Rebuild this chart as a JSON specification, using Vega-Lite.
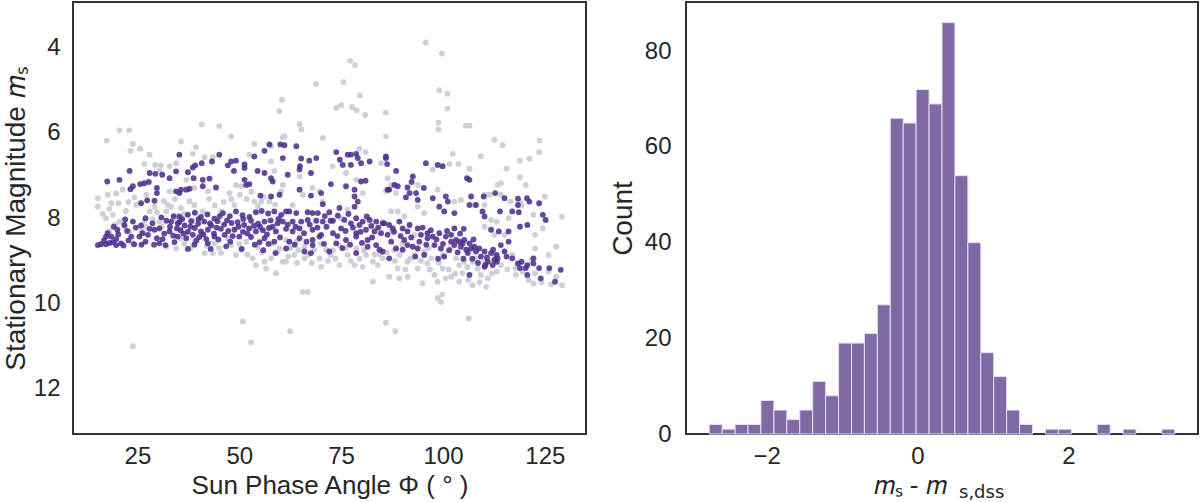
{
  "$schema": "https://vega.github.io/schema/vega-lite/v6.json",
  "background": "white",
  "padding": {"left": 1, "top": 1, "right": 0, "bottom": 0},
  "spacing": 100,
  "bounds": "flush",
  "config": {
    "font": "Liberation Sans",
    "view": {"stroke": "#333333", "strokeWidth": 2},
    "axis": {
      "grid": false, "ticks": false, "domain": false,
      "labelFont": "Liberation Sans", "labelFontSize": 24, "labelColor": "#262626", "labelPadding": 12,
      "titleFont": "Liberation Sans", "titleFontSize": 26, "titleFontWeight": "normal", "titleColor": "#262626", "titlePadding": 6
    }
  },
  "datasets": {
    "gray": [
      {"phi":95.8,"ms":3.88},{"phi":99.75,"ms":4.14},{"phi":77.2,"ms":4.31},{"phi":78.4,"ms":4.41},{"phi":68.85,"ms":4.85},{"phi":75.55,"ms":4.81},{"phi":79.6,"ms":5.12},{"phi":99.1,"ms":5.0},{"phi":101.1,"ms":5.08},{"phi":60.5,"ms":5.22},{"phi":59.85,"ms":5.49},{"phi":73.8,"ms":5.41},{"phi":75.0,"ms":5.35},{"phi":77.7,"ms":5.39},{"phi":78.8,"ms":5.47},{"phi":80.9,"ms":5.58},{"phi":86.0,"ms":5.52},{"phi":101.1,"ms":5.43},{"phi":98.9,"ms":5.76},{"phi":98.9,"ms":5.92},{"phi":64.8,"ms":5.79},{"phi":65.25,"ms":5.92},{"phi":40.8,"ms":5.8},{"phi":45.1,"ms":5.84},{"phi":20.6,"ms":5.94},{"phi":23.0,"ms":5.94},{"phi":105.6,"ms":5.83},{"phi":106.5,"ms":5.83},
      {"phi":23.9,"ms":11.0},{"phi":50.9,"ms":10.42},{"phi":52.9,"ms":10.91},{"phi":62.5,"ms":10.65},{"phi":86.0,"ms":10.45},{"phi":88.3,"ms":10.65},{"phi":106.3,"ms":10.35},{"phi":65.6,"ms":9.73},{"phi":66.8,"ms":9.73},{"phi":98.7,"ms":9.87},{"phi":99.8,"ms":9.79},{"phi":99.5,"ms":9.96},
      {"phi":17.5,"ms":6.18},{"phi":23.9,"ms":6.26},{"phi":23.3,"ms":6.42},{"phi":25.7,"ms":6.37},{"phi":28.0,"ms":6.51},{"phi":26.7,"ms":6.73},{"phi":29.4,"ms":6.75},{"phi":30.8,"ms":6.76},{"phi":30.4,"ms":6.89},{"phi":32.9,"ms":6.78},{"phi":21.4,"ms":7.33},{"phi":17.7,"ms":7.45},{"phi":15.3,"ms":7.53},{"phi":15.3,"ms":7.73},{"phi":18.6,"ms":7.65},{"phi":20.4,"ms":7.65},{"phi":22.2,"ms":7.83},{"phi":19.0,"ms":7.92},{"phi":17.3,"ms":8.0},{"phi":20.6,"ms":8.08},{"phi":18.1,"ms":7.78},{"phi":24.3,"ms":7.51},{"phi":32.9,"ms":7.37},{"phi":32.5,"ms":7.69},{"phi":24.7,"ms":7.69},{"phi":28.0,"ms":7.84},{"phi":29.8,"ms":7.86},{"phi":26.7,"ms":8.06},{"phi":28.8,"ms":8.02},{"phi":30.4,"ms":8.08},{"phi":32.1,"ms":7.84},{"phi":23.1,"ms":8.31},{"phi":25.9,"ms":8.31},{"phi":18.1,"ms":8.31},{"phi":32.1,"ms":8.67},{"phi":23.9,"ms":8.59},{"phi":34.5,"ms":8.71},{"phi":33.3,"ms":7.73},{"phi":29.2,"ms":7.73},
      {"phi":35.7,"ms":6.2},{"phi":39.4,"ms":6.34},{"phi":38.6,"ms":6.49},{"phi":41.5,"ms":6.57},{"phi":43.5,"ms":6.57},{"phi":48.0,"ms":6.08},{"phi":53.7,"ms":6.26},{"phi":60.7,"ms":6.1},{"phi":57.8,"ms":6.31},{"phi":57.8,"ms":6.67},{"phi":52.5,"ms":6.51},{"phi":58.6,"ms":6.89},{"phi":37.0,"ms":7.1},{"phi":39.0,"ms":7.29},{"phi":42.3,"ms":7.37},{"phi":47.6,"ms":7.41},{"phi":50.5,"ms":7.25},{"phi":49.2,"ms":7.22},{"phi":53.7,"ms":7.61},{"phi":55.4,"ms":7.61},{"phi":57.4,"ms":7.61},{"phi":60.3,"ms":7.37},{"phi":39.0,"ms":7.69},{"phi":35.7,"ms":7.76},{"phi":41.05,"ms":7.84},{"phi":48.8,"ms":7.69},{"phi":45.5,"ms":7.84},{"phi":34.5,"ms":6.71},{"phi":35.7,"ms":8.47},{"phi":41.5,"ms":8.82},{"phi":43.5,"ms":8.82},{"phi":48.0,"ms":8.63},{"phi":50.5,"ms":8.74},{"phi":53.3,"ms":8.94},{"phi":54.1,"ms":9.1},{"phi":56.2,"ms":9.02},{"phi":57.8,"ms":8.94},{"phi":56.6,"ms":9.18},{"phi":59.0,"ms":9.29},{"phi":60.7,"ms":9.02},{"phi":45.5,"ms":8.82},{"phi":39.0,"ms":8.55},{"phi":47.2,"ms":8.47},{"phi":51.7,"ms":8.55},{"phi":59.4,"ms":8.78},{"phi":54.5,"ms":8.67},{"phi":43.9,"ms":8.59},{"phi":49.2,"ms":8.86},
      {"phi":61.1,"ms":6.08},{"phi":70.5,"ms":6.12},{"phi":79.5,"ms":6.37},{"phi":81.0,"ms":6.45},{"phi":84.8,"ms":6.71},{"phi":72.9,"ms":6.78},{"phi":64.8,"ms":7.02},{"phi":68.0,"ms":7.29},{"phi":69.7,"ms":7.37},{"phi":76.2,"ms":6.94},{"phi":78.7,"ms":7.1},{"phi":80.3,"ms":7.41},{"phi":60.7,"ms":7.22},{"phi":63.1,"ms":7.69},{"phi":65.6,"ms":7.45},{"phi":70.5,"ms":7.61},{"phi":76.6,"ms":7.8},{"phi":75.0,"ms":8.0},{"phi":85.2,"ms":8.08},{"phi":86.0,"ms":7.37},{"phi":59.9,"ms":8.0},{"phi":61.5,"ms":8.51},{"phi":64.0,"ms":8.55},{"phi":66.0,"ms":8.67},{"phi":68.4,"ms":8.74},{"phi":63.5,"ms":8.86},{"phi":59.9,"ms":8.71},{"phi":61.5,"ms":9.02},{"phi":66.0,"ms":8.94},{"phi":69.7,"ms":8.94},{"phi":72.5,"ms":8.86},{"phi":74.6,"ms":9.1},{"phi":70.1,"ms":9.14},{"phi":76.6,"ms":8.86},{"phi":78.3,"ms":9.1},{"phi":80.3,"ms":9.14},{"phi":82.8,"ms":9.02},{"phi":84.0,"ms":9.1},{"phi":82.8,"ms":9.49},{"phi":85.2,"ms":8.94},{"phi":71.3,"ms":8.74},{"phi":78.7,"ms":8.71},{"phi":74.6,"ms":8.63},{"phi":81.1,"ms":8.86},
      {"phi":86.0,"ms":6.08},{"phi":112.6,"ms":6.16},{"phi":102.4,"ms":6.49},{"phi":109.3,"ms":6.55},{"phi":101.6,"ms":6.73},{"phi":103.8,"ms":6.73},{"phi":97.5,"ms":6.86},{"phi":106.5,"ms":6.84},{"phi":86.4,"ms":7.06},{"phi":87.3,"ms":7.22},{"phi":88.5,"ms":7.41},{"phi":93.8,"ms":7.22},{"phi":93.8,"ms":7.73},{"phi":98.7,"ms":7.33},{"phi":102.8,"ms":7.61},{"phi":104.4,"ms":7.57},{"phi":87.3,"ms":7.84},{"phi":88.9,"ms":7.84},{"phi":90.5,"ms":7.96},{"phi":95.4,"ms":7.88},{"phi":110.2,"ms":7.45},{"phi":111.4,"ms":7.45},{"phi":113.4,"ms":7.22},{"phi":110.2,"ms":7.69},{"phi":107.7,"ms":7.69},{"phi":111.8,"ms":8.04},{"phi":110.2,"ms":8.2},{"phi":112.6,"ms":8.39},{"phi":89.3,"ms":8.86},{"phi":91.3,"ms":9.02},{"phi":93.0,"ms":8.86},{"phi":95.4,"ms":8.78},{"phi":88.9,"ms":9.18},{"phi":86.8,"ms":9.37},{"phi":89.3,"ms":9.41},{"phi":91.3,"ms":9.37},{"phi":93.8,"ms":9.18},{"phi":95.0,"ms":9.53},{"phi":97.9,"ms":9.33},{"phi":98.7,"ms":9.49},{"phi":100.7,"ms":9.41},{"phi":102.0,"ms":9.37},{"phi":104.0,"ms":9.49},{"phi":104.8,"ms":9.29},{"phi":105.2,"ms":9.02},{"phi":107.3,"ms":9.02},{"phi":108.5,"ms":9.18},{"phi":107.3,"ms":9.57},{"phi":109.3,"ms":9.33},{"phi":110.6,"ms":9.61},{"phi":111.0,"ms":9.41},{"phi":103.2,"ms":8.94},{"phi":96.2,"ms":9.06},{"phi":99.9,"ms":9.18},{"phi":110.2,"ms":9.02},{"phi":112.6,"ms":8.86},{"phi":87.3,"ms":8.31},{"phi":93.0,"ms":8.39},{"phi":102.0,"ms":8.71},{"phi":97.1,"ms":8.94},
      {"phi":114.6,"ms":6.29},{"phi":123.7,"ms":6.18},{"phi":123.6,"ms":6.45},{"phi":121.2,"ms":6.6},{"phi":118.9,"ms":6.65},{"phi":115.6,"ms":6.84},{"phi":118.9,"ms":7.04},{"phi":114.2,"ms":7.18},{"phi":120.3,"ms":7.22},{"phi":125.0,"ms":7.49},{"phi":114.2,"ms":7.45},{"phi":116.5,"ms":7.61},{"phi":118.9,"ms":7.61},{"phi":119.3,"ms":7.7},{"phi":129.2,"ms":7.96},{"phi":122.2,"ms":7.92},{"phi":116.1,"ms":8.0},{"phi":113.2,"ms":8.08},{"phi":115.1,"ms":8.39},{"phi":122.6,"ms":8.39},{"phi":124.5,"ms":8.24},{"phi":127.8,"ms":8.67},{"phi":125.9,"ms":8.86},{"phi":122.6,"ms":8.71},{"phi":117.0,"ms":8.86},{"phi":121.7,"ms":8.98},{"phi":114.2,"ms":9.1},{"phi":117.8,"ms":9.17},{"phi":122.6,"ms":9.29},{"phi":125.9,"ms":9.25},{"phi":122.2,"ms":9.53},{"phi":129.2,"ms":9.57},{"phi":127.8,"ms":9.37},{"phi":117.9,"ms":9.33},{"phi":113.2,"ms":9.25},
      {"phi":36.5,"ms":8.6},{"phi":38.0,"ms":8.7},{"phi":42.0,"ms":8.65},{"phi":45.0,"ms":8.7},{"phi":50.0,"ms":8.6},{"phi":52.0,"ms":8.85},{"phi":55.5,"ms":8.8},{"phi":58.0,"ms":8.6},{"phi":62.5,"ms":8.7},{"phi":64.5,"ms":8.75},{"phi":67.0,"ms":8.85},{"phi":70.0,"ms":8.6},{"phi":73.0,"ms":8.75},{"phi":76.0,"ms":8.7},{"phi":79.5,"ms":8.95},{"phi":84.5,"ms":8.85},{"phi":88.0,"ms":8.75},{"phi":90.0,"ms":8.6},{"phi":92.0,"ms":8.95},{"phi":96.5,"ms":8.7},{"phi":100.0,"ms":8.85},{"phi":104.0,"ms":9.1},{"phi":106.0,"ms":9.15},{"phi":108.0,"ms":8.95},
      {"phi":16.5,"ms":7.9},{"phi":19.5,"ms":8.15},{"phi":22.0,"ms":8.2},{"phi":27.0,"ms":8.2},{"phi":31.0,"ms":8.2},{"phi":34.0,"ms":8.0},{"phi":36.5,"ms":7.9},{"phi":38.5,"ms":8.05},
      {"phi":50.2,"ms":7.45},{"phi":51.8,"ms":7.55},{"phi":53.0,"ms":7.38},{"phi":54.6,"ms":7.72},{"phi":56.0,"ms":7.5},{"phi":58.8,"ms":7.68},{"phi":48.0,"ms":7.55},{"phi":46.2,"ms":7.62},{"phi":44.0,"ms":7.7},{"phi":42.6,"ms":7.55},{"phi":37.8,"ms":7.6},{"phi":34.2,"ms":7.55},{"phi":31.5,"ms":7.6},{"phi":27.2,"ms":7.45},{"phi":22.8,"ms":7.62},{"phi":19.8,"ms":7.42},
      {"phi":62.0,"ms":8.9},{"phi":64.2,"ms":9.05},{"phi":67.8,"ms":9.05},{"phi":71.8,"ms":9.0},{"phi":73.6,"ms":8.95},{"phi":77.4,"ms":9.0},{"phi":80.6,"ms":8.75},{"phi":83.2,"ms":8.85},{"phi":86.2,"ms":8.8},{"phi":88.2,"ms":9.0},{"phi":90.8,"ms":9.2},{"phi":94.6,"ms":9.0},{"phi":96.8,"ms":9.2},{"phi":99.0,"ms":9.05},{"phi":101.4,"ms":9.2},{"phi":103.0,"ms":9.3},{"phi":106.2,"ms":9.45},{"phi":109.0,"ms":9.5},{"phi":112.0,"ms":9.3},{"phi":115.8,"ms":9.2},{"phi":119.5,"ms":9.25},{"phi":121.0,"ms":9.45},{"phi":124.2,"ms":9.5},{"phi":126.5,"ms":9.55}
    ],
    "purple": [
      {"phi":23.1,"ms":6.89},{"phi":17.6,"ms":7.14},{"phi":20.6,"ms":7.1},{"phi":28.0,"ms":6.94},{"phi":29.4,"ms":6.96},{"phi":31.1,"ms":6.98},{"phi":27.8,"ms":7.15},{"phi":26.7,"ms":7.18},{"phi":25.7,"ms":7.2},{"phi":23.9,"ms":7.25},{"phi":23.3,"ms":7.32},{"phi":29.8,"ms":7.29},{"phi":29.8,"ms":7.41},{"phi":25.9,"ms":7.65},{"phi":27.4,"ms":7.58},{"phi":29.2,"ms":7.59},{"phi":34.5,"ms":6.9},{"phi":35.3,"ms":6.51},{"phi":32.9,"ms":7.06},{"phi":34.5,"ms":7.37},
      {"phi":23.9,"ms":8.08},{"phi":21.8,"ms":8.16},{"phi":25.9,"ms":8.17},{"phi":32.1,"ms":8.06},{"phi":33.3,"ms":8.08},{"phi":30.4,"ms":8.24},{"phi":29.2,"ms":8.27},{"phi":17.7,"ms":8.35},{"phi":18.6,"ms":8.43},{"phi":19.8,"ms":8.49},{"phi":19.0,"ms":8.56},{"phi":17.3,"ms":8.61},{"phi":15.3,"ms":8.63},{"phi":21.0,"ms":8.59},{"phi":21.6,"ms":8.64},{"phi":23.5,"ms":8.43},{"phi":25.5,"ms":8.43},{"phi":27.6,"ms":8.39},{"phi":28.0,"ms":8.25},{"phi":29.8,"ms":8.47},{"phi":31.2,"ms":8.49},{"phi":32.9,"ms":8.31},{"phi":33.8,"ms":8.41},{"phi":34.7,"ms":8.24},{"phi":35.3,"ms":8.09},{"phi":17.3,"ms":8.43},{"phi":16.1,"ms":8.61},{"phi":19.8,"ms":8.63},{"phi":27.0,"ms":8.55},{"phi":30.4,"ms":8.59},{"phi":34.1,"ms":8.56},
      {"phi":39.2,"ms":6.76},{"phi":38.6,"ms":6.81},{"phi":40.8,"ms":6.71},{"phi":43.3,"ms":6.67},{"phi":45.1,"ms":6.51},{"phi":47.2,"ms":6.76},{"phi":48.0,"ms":6.67},{"phi":49.2,"ms":6.65},{"phi":48.7,"ms":6.89},{"phi":51.3,"ms":6.74},{"phi":51.3,"ms":6.82},{"phi":53.7,"ms":6.55},{"phi":56.2,"ms":6.42},{"phi":57.4,"ms":6.27},{"phi":60.1,"ms":6.27},{"phi":37.4,"ms":6.92},{"phi":38.8,"ms":7.06},{"phi":41.05,"ms":7.1},{"phi":42.7,"ms":7.07},{"phi":44.3,"ms":7.28},{"phi":41.05,"ms":7.25},{"phi":51.3,"ms":7.1},{"phi":51.7,"ms":7.22},{"phi":52.5,"ms":7.2},{"phi":54.5,"ms":6.89},{"phi":56.2,"ms":6.94},{"phi":57.8,"ms":7.06},{"phi":58.2,"ms":7.14},{"phi":35.7,"ms":7.33},{"phi":37.0,"ms":7.33},{"phi":37.8,"ms":7.31},{"phi":35.3,"ms":7.41},{"phi":55.2,"ms":7.47},{"phi":57.8,"ms":7.49},{"phi":59.9,"ms":7.45},
      {"phi":35.3,"ms":7.96},{"phi":37.4,"ms":7.92},{"phi":39.1,"ms":7.87},{"phi":40.6,"ms":7.97},{"phi":42.2,"ms":7.91},{"phi":43.9,"ms":8.01},{"phi":46.0,"ms":7.88},{"phi":47.7,"ms":7.95},{"phi":49.2,"ms":7.84},{"phi":50.8,"ms":7.93},{"phi":52.5,"ms":7.97},{"phi":54.1,"ms":7.86},{"phi":55.5,"ms":7.83},{"phi":57.1,"ms":7.89},{"phi":58.6,"ms":7.84},{"phi":60.3,"ms":7.92},
      {"phi":34.9,"ms":8.12},{"phi":36.6,"ms":8.17},{"phi":38.2,"ms":8.07},{"phi":39.9,"ms":8.13},{"phi":41.4,"ms":8.08},{"phi":43.1,"ms":8.17},{"phi":44.7,"ms":8.07},{"phi":46.3,"ms":8.15},{"phi":48.1,"ms":8.11},{"phi":49.6,"ms":8.09},{"phi":51.2,"ms":8.16},{"phi":52.9,"ms":8.06},{"phi":54.6,"ms":8.13},{"phi":56.2,"ms":8.08},{"phi":57.7,"ms":8.05},{"phi":59.4,"ms":8.12},
      {"phi":35.6,"ms":8.28},{"phi":37.4,"ms":8.32},{"phi":39.1,"ms":8.23},{"phi":40.6,"ms":8.31},{"phi":42.3,"ms":8.27},{"phi":43.8,"ms":8.36},{"phi":45.5,"ms":8.25},{"phi":47.3,"ms":8.3},{"phi":48.8,"ms":8.27},{"phi":50.9,"ms":8.32},{"phi":52.4,"ms":8.24},{"phi":54.1,"ms":8.31},{"phi":55.8,"ms":8.28},{"phi":57.3,"ms":8.23},{"phi":59.0,"ms":8.31},
      {"phi":34.9,"ms":8.43},{"phi":37.0,"ms":8.47},{"phi":38.6,"ms":8.39},{"phi":40.2,"ms":8.44},{"phi":41.9,"ms":8.49},{"phi":43.9,"ms":8.43},{"phi":46.4,"ms":8.39},{"phi":50.0,"ms":8.43},{"phi":52.9,"ms":8.44},{"phi":56.2,"ms":8.47},{"phi":58.6,"ms":8.55},{"phi":37.4,"ms":8.72},{"phi":42.3,"ms":8.59},{"phi":55.0,"ms":8.56},
      {"phi":61.1,"ms":6.29},{"phi":64.0,"ms":6.31},{"phi":60.7,"ms":6.59},{"phi":65.2,"ms":6.6},{"phi":67.2,"ms":6.65},{"phi":68.9,"ms":6.59},{"phi":64.9,"ms":6.78},{"phi":64.8,"ms":6.86},{"phi":67.6,"ms":6.94},{"phi":61.9,"ms":6.98},{"phi":73.8,"ms":6.45},{"phi":74.7,"ms":6.63},{"phi":76.6,"ms":6.51},{"phi":77.4,"ms":6.51},{"phi":78.7,"ms":6.49},{"phi":79.1,"ms":6.59},{"phi":79.9,"ms":6.71},{"phi":82.0,"ms":6.67},{"phi":77.4,"ms":6.75},{"phi":75.4,"ms":6.75},{"phi":72.5,"ms":7.2},{"phi":76.2,"ms":7.25},{"phi":78.3,"ms":7.33},{"phi":79.9,"ms":7.14},{"phi":81.0,"ms":7.12},{"phi":86.0,"ms":6.59},{"phi":86.4,"ms":7.33},{"phi":64.8,"ms":7.33},{"phi":67.6,"ms":7.47},{"phi":70.1,"ms":7.41},{"phi":78.3,"ms":7.49},{"phi":79.1,"ms":7.61},{"phi":70.5,"ms":7.67},{"phi":74.6,"ms":7.76},{"phi":78.3,"ms":7.73},{"phi":61.5,"ms":7.84},
      {"phi":62.3,"ms":7.84},{"phi":64.0,"ms":7.88},{"phi":66.8,"ms":7.86},{"phi":68.0,"ms":7.88},{"phi":69.3,"ms":7.88},{"phi":72.1,"ms":7.86},{"phi":74.2,"ms":7.94},{"phi":78.7,"ms":8.0},{"phi":80.3,"ms":8.08},{"phi":82.0,"ms":8.04},{"phi":83.6,"ms":8.08},{"phi":85.2,"ms":8.12},{"phi":60.7,"ms":8.08},{"phi":63.1,"ms":8.08},{"phi":65.2,"ms":8.08},{"phi":66.8,"ms":8.04},{"phi":68.9,"ms":8.06},{"phi":70.5,"ms":8.08},{"phi":73.0,"ms":8.06},{"phi":75.8,"ms":8.04},{"phi":77.4,"ms":8.12},{"phi":79.5,"ms":8.16},{"phi":61.5,"ms":8.25},{"phi":63.1,"ms":8.31},{"phi":64.8,"ms":8.24},{"phi":68.0,"ms":8.27},{"phi":70.1,"ms":8.39},{"phi":73.0,"ms":8.35},{"phi":75.0,"ms":8.24},{"phi":78.7,"ms":8.35},{"phi":81.1,"ms":8.27},{"phi":83.2,"ms":8.31},{"phi":84.8,"ms":8.35},{"phi":62.3,"ms":8.55},{"phi":64.8,"ms":8.47},{"phi":68.0,"ms":8.51},{"phi":69.7,"ms":8.43},{"phi":76.2,"ms":8.51},{"phi":78.7,"ms":8.43},{"phi":81.5,"ms":8.51},{"phi":83.6,"ms":8.63},{"phi":85.2,"ms":8.78},{"phi":61.5,"ms":8.71},{"phi":66.0,"ms":8.78},{"phi":67.6,"ms":8.82},{"phi":72.1,"ms":8.78},{"phi":78.7,"ms":8.82},{"phi":81.5,"ms":8.67},{"phi":84.4,"ms":8.74},{"phi":68.0,"ms":8.63},{"phi":73.8,"ms":8.59},
      {"phi":86.0,"ms":6.55},{"phi":86.3,"ms":6.73},{"phi":88.5,"ms":6.89},{"phi":95.8,"ms":6.71},{"phi":98.7,"ms":6.75},{"phi":99.9,"ms":6.78},{"phi":92.6,"ms":7.02},{"phi":92.3,"ms":7.15},{"phi":88.1,"ms":7.22},{"phi":88.9,"ms":7.25},{"phi":86.8,"ms":7.33},{"phi":91.3,"ms":7.28},{"phi":91.8,"ms":7.41},{"phi":90.9,"ms":7.51},{"phi":93.4,"ms":7.41},{"phi":95.3,"ms":7.29},{"phi":93.8,"ms":7.57},{"phi":97.5,"ms":7.53},{"phi":99.1,"ms":7.73},{"phi":100.7,"ms":7.49},{"phi":101.2,"ms":7.61},{"phi":100.3,"ms":7.84},{"phi":102.8,"ms":7.88},{"phi":105.9,"ms":7.06},{"phi":106.5,"ms":7.1},{"phi":106.9,"ms":7.49},{"phi":106.5,"ms":7.69},{"phi":108.1,"ms":7.69},{"phi":110.0,"ms":7.49},{"phi":109.7,"ms":7.84},{"phi":110.2,"ms":7.96},{"phi":112.8,"ms":7.41},{"phi":111.8,"ms":8.27},
      {"phi":85.6,"ms":8.12},{"phi":86.8,"ms":8.16},{"phi":87.7,"ms":8.24},{"phi":86.4,"ms":8.39},{"phi":89.3,"ms":8.08},{"phi":90.1,"ms":8.24},{"phi":91.8,"ms":8.16},{"phi":91.3,"ms":8.31},{"phi":93.8,"ms":8.24},{"phi":94.6,"ms":8.39},{"phi":96.2,"ms":8.35},{"phi":97.5,"ms":8.43},{"phi":99.1,"ms":8.35},{"phi":100.7,"ms":8.43},{"phi":102.0,"ms":8.39},{"phi":103.2,"ms":8.51},{"phi":104.0,"ms":8.55},{"phi":105.2,"ms":8.51},{"phi":106.5,"ms":8.59},{"phi":107.7,"ms":8.67},{"phi":108.9,"ms":8.71},{"phi":110.2,"ms":8.78},{"phi":111.8,"ms":8.82},{"phi":113.4,"ms":8.94},{"phi":102.8,"ms":8.24},{"phi":105.1,"ms":8.25},{"phi":87.3,"ms":8.55},{"phi":88.5,"ms":8.71},{"phi":86.8,"ms":8.94},{"phi":90.1,"ms":8.74},{"phi":91.3,"ms":8.63},{"phi":92.6,"ms":8.67},{"phi":93.8,"ms":8.71},{"phi":95.4,"ms":8.86},{"phi":96.2,"ms":8.47},{"phi":97.9,"ms":8.63},{"phi":99.5,"ms":8.71},{"phi":100.3,"ms":8.9},{"phi":102.0,"ms":8.55},{"phi":102.8,"ms":8.63},{"phi":104.4,"ms":8.67},{"phi":105.7,"ms":8.74},{"phi":106.9,"ms":8.71},{"phi":108.1,"ms":8.78},{"phi":109.3,"ms":8.9},{"phi":111.0,"ms":9.02},{"phi":112.6,"ms":8.98},{"phi":110.2,"ms":9.14},{"phi":106.5,"ms":9.33},{"phi":90.5,"ms":8.51},{"phi":94.2,"ms":8.55},{"phi":104.8,"ms":8.59},{"phi":106.1,"ms":8.82},
      {"phi":115.1,"ms":7.53},{"phi":118.4,"ms":7.54},{"phi":120.6,"ms":7.53},{"phi":121.2,"ms":7.61},{"phi":114.0,"ms":7.84},{"phi":117.0,"ms":7.84},{"phi":118.4,"ms":7.69},{"phi":118.6,"ms":7.86},{"phi":123.6,"ms":7.65},{"phi":124.5,"ms":7.92},{"phi":125.2,"ms":8.04},{"phi":120.7,"ms":8.16},{"phi":118.9,"ms":8.2},{"phi":113.7,"ms":8.31},{"phi":116.1,"ms":8.31},{"phi":116.1,"ms":8.55},{"phi":114.2,"ms":8.63},{"phi":112.3,"ms":8.74},{"phi":113.2,"ms":8.86},{"phi":115.6,"ms":8.9},{"phi":117.0,"ms":8.94},{"phi":118.4,"ms":9.06},{"phi":119.3,"ms":9.02},{"phi":120.7,"ms":9.1},{"phi":122.2,"ms":9.06},{"phi":120.3,"ms":9.17},{"phi":118.9,"ms":9.17},{"phi":123.6,"ms":9.17},{"phi":120.7,"ms":9.33},{"phi":124.0,"ms":9.41},{"phi":126.1,"ms":9.17},{"phi":127.5,"ms":9.49},{"phi":128.9,"ms":9.21},{"phi":122.2,"ms":8.94},{"phi":115.1,"ms":8.78},{"phi":113.2,"ms":9.02},{"phi":110.4,"ms":9.1},
      {"phi":16.8,"ms":8.52},{"phi":18.2,"ms":8.58},{"phi":20.3,"ms":8.38},{"phi":22.5,"ms":8.3},{"phi":24.6,"ms":8.22},{"phi":26.3,"ms":8.35},{"phi":28.7,"ms":8.12},{"phi":31.6,"ms":8.36},{"phi":33.0,"ms":8.2},{"phi":22.8,"ms":8.52},{"phi":24.2,"ms":8.61},{"phi":26.0,"ms":8.62},{"phi":29.1,"ms":8.62},{"phi":31.9,"ms":8.63},{"phi":20.1,"ms":8.27},{"phi":27.0,"ms":8.0},{"phi":30.9,"ms":7.98},{"phi":33.9,"ms":7.95},{"phi":19.2,"ms":8.2},{"phi":22.0,"ms":8.03},
      {"phi":36.0,"ms":8.02},{"phi":38.0,"ms":8.2},{"phi":40.0,"ms":8.02},{"phi":41.2,"ms":8.38},{"phi":42.8,"ms":8.12},{"phi":44.4,"ms":8.22},{"phi":45.2,"ms":7.95},{"phi":47.0,"ms":8.05},{"phi":48.4,"ms":8.42},{"phi":49.8,"ms":8.2},{"phi":51.0,"ms":8.02},{"phi":52.0,"ms":8.36},{"phi":53.6,"ms":8.18},{"phi":55.1,"ms":8.2},{"phi":56.8,"ms":8.38},{"phi":58.2,"ms":8.2},{"phi":59.6,"ms":8.02},{"phi":36.3,"ms":8.36},{"phi":39.5,"ms":8.52},{"phi":44.9,"ms":8.5},{"phi":47.8,"ms":8.55},{"phi":53.8,"ms":8.62},{"phi":57.2,"ms":8.6},{"phi":60.0,"ms":8.45},{"phi":46.8,"ms":8.66},{"phi":50.6,"ms":8.72},{"phi":43.0,"ms":8.72},{"phi":39.0,"ms":8.62},{"phi":55.9,"ms":8.75},{"phi":58.9,"ms":8.82},
      {"phi":61.9,"ms":8.15},{"phi":63.8,"ms":8.2},{"phi":65.9,"ms":8.35},{"phi":67.3,"ms":8.15},{"phi":69.2,"ms":8.22},{"phi":71.4,"ms":8.2},{"phi":72.4,"ms":8.06},{"phi":74.1,"ms":8.42},{"phi":76.1,"ms":8.3},{"phi":77.9,"ms":8.22},{"phi":79.8,"ms":8.32},{"phi":82.4,"ms":8.18},{"phi":84.1,"ms":8.22},{"phi":63.6,"ms":8.62},{"phi":66.5,"ms":8.55},{"phi":70.8,"ms":8.6},{"phi":75.3,"ms":8.7},{"phi":77.2,"ms":8.62},{"phi":80.1,"ms":8.58},{"phi":82.6,"ms":8.45},{"phi":71.0,"ms":7.95},{"phi":76.8,"ms":7.9},{"phi":81.3,"ms":7.96},
      {"phi":88.0,"ms":8.32},{"phi":89.6,"ms":8.42},{"phi":92.2,"ms":8.45},{"phi":95.0,"ms":8.22},{"phi":97.0,"ms":8.28},{"phi":98.4,"ms":8.5},{"phi":100.0,"ms":8.6},{"phi":101.5,"ms":8.75},{"phi":103.6,"ms":8.8},{"phi":105.0,"ms":8.95},{"phi":107.2,"ms":8.95},{"phi":108.6,"ms":9.05},{"phi":110.8,"ms":8.92},{"phi":112.2,"ms":9.1},{"phi":107.5,"ms":8.5},{"phi":104.2,"ms":8.36},{"phi":95.9,"ms":8.62},{"phi":93.2,"ms":8.9},{"phi":98.8,"ms":8.95},{"phi":101.0,"ms":8.3}
    ],
    "hist": [
      {"lo":-2.762,"hi":-2.5905,"n":2},{"lo":-2.5905,"hi":-2.419,"n":1},{"lo":-2.419,"hi":-2.2475,"n":2},{"lo":-2.2475,"hi":-2.076,"n":2},
      {"lo":-2.076,"hi":-1.9045,"n":7},{"lo":-1.9045,"hi":-1.733,"n":5},{"lo":-1.733,"hi":-1.5615,"n":3},{"lo":-1.5615,"hi":-1.39,"n":5},
      {"lo":-1.39,"hi":-1.2185,"n":11},{"lo":-1.2185,"hi":-1.047,"n":8},{"lo":-1.047,"hi":-0.8755,"n":19},{"lo":-0.8755,"hi":-0.704,"n":19},
      {"lo":-0.704,"hi":-0.5325,"n":21},{"lo":-0.5325,"hi":-0.361,"n":27},{"lo":-0.361,"hi":-0.1895,"n":66},{"lo":-0.1895,"hi":-0.018,"n":65},
      {"lo":-0.018,"hi":0.1535,"n":72},{"lo":0.1535,"hi":0.325,"n":69},{"lo":0.325,"hi":0.4965,"n":86},{"lo":0.4965,"hi":0.668,"n":54},
      {"lo":0.668,"hi":0.8395,"n":40},{"lo":0.8395,"hi":1.011,"n":17},{"lo":1.011,"hi":1.1825,"n":12},{"lo":1.1825,"hi":1.354,"n":5},
      {"lo":1.354,"hi":1.5255,"n":2},{"lo":1.697,"hi":1.8685,"n":1},{"lo":1.8685,"hi":2.04,"n":1},{"lo":2.383,"hi":2.5545,"n":2},
      {"lo":2.726,"hi":2.8975,"n":1},{"lo":3.2405,"hi":3.412,"n":1}
    ]
  },
  "hconcat": [
    {
      "width": 513,
      "height": 432,
      "layer": [
        {
          "data": {"name": "gray"},
          "mark": {"type": "circle", "size": 34, "color": "#cdd0d6", "opacity": 1},
          "encoding": {
            "x": {"field": "phi", "type": "quantitative",
                  "scale": {"domain": [9.2, 135.1], "nice": false, "zero": false},
                  "axis": {"values": [25, 50, 75, 100, 125], "title": "Sun Phase Angle Φ ( ° )", "labelPadding": 10, "titlePadding": 4}},
            "y": {"field": "ms", "type": "quantitative",
                  "scale": {"domain": [2.93, 13.06], "reverse": true, "nice": false, "zero": false},
                  "axis": {"values": [4, 6, 8, 10, 12], "title": "Stationary Magnitude 𝑚ₛ", "titleFontSize": 28, "labelPadding": 13, "titlePadding": 3}}
          }
        },
        {
          "data": {"name": "purple"},
          "mark": {"type": "circle", "size": 34, "color": "#4a2a8c", "opacity": 0.86},
          "encoding": {
            "x": {"field": "phi", "type": "quantitative"},
            "y": {"field": "ms", "type": "quantitative"}
          }
        }
      ]
    },
    {
      "width": 512,
      "height": 432,
      "data": {"name": "hist"},
      "title": {"text": "s,dss", "orient": "bottom", "anchor": "start", "frame": "group", "dx": 273, "dy": -18, "fontSize": 18, "fontWeight": "normal", "font": "DejaVu Sans", "color": "#262626"},
      "mark": {"type": "bar", "fill": "#7f6aa6", "stroke": "#e4def0", "strokeWidth": 1},
      "encoding": {
        "x": {"field": "lo", "type": "quantitative",
              "scale": {"domain": [-3.07, 3.72], "nice": false, "zero": false},
              "axis": {"values": [-2, 0, 2], "title": "𝑚ₛ - 𝑚", "titleX": 187, "titleAlign": "left", "labelPadding": 10, "titlePadding": 4}},
        "x2": {"field": "hi"},
        "y": {"field": "n", "type": "quantitative",
              "scale": {"domain": [0, 90.3], "nice": false, "zero": true},
              "axis": {"values": [0, 20, 40, 60, 80], "title": "Count", "titleFontSize": 28, "labelPadding": 15, "titlePadding": 7}},
        "y2": {"datum": 0}
      }
    }
  ]
}
